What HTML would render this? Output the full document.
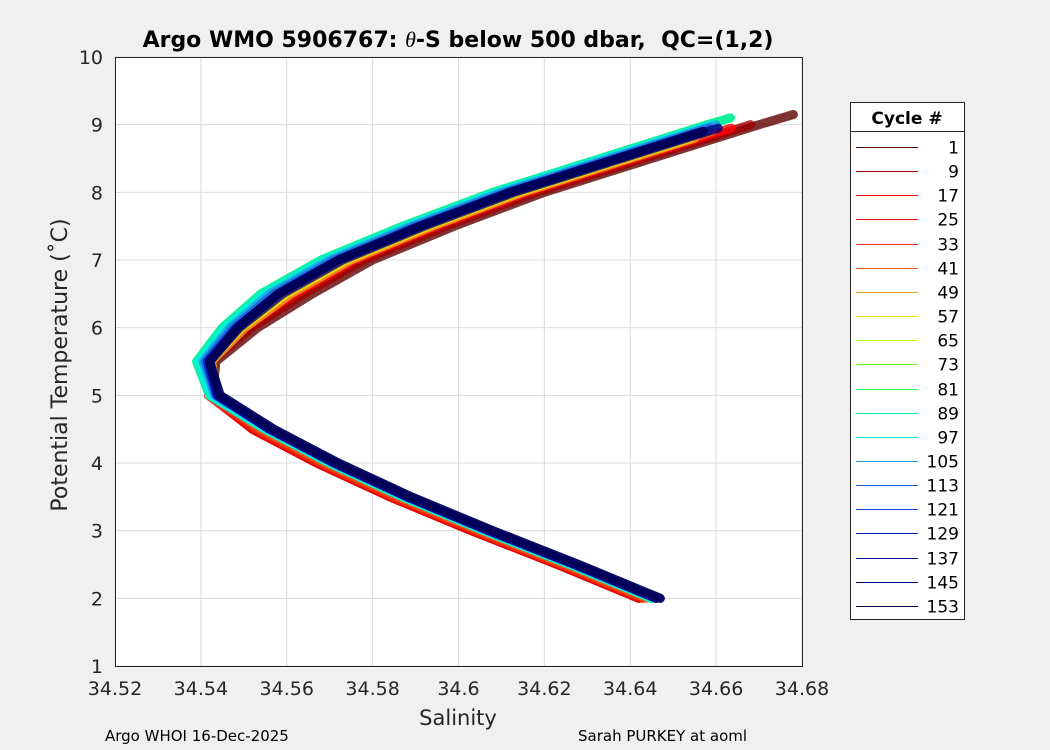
<!DOCTYPE html>
<html><head><meta charset="utf-8">
<style>
body{margin:0;background:#f0f0f0;font-family:"Liberation Sans","DejaVu Sans",sans-serif;}
#wrap{position:relative;width:1050px;height:750px;background:#f0f0f0;overflow:hidden}
text{font-family:"DejaVu Sans","Liberation Sans",sans-serif}
</style></head><body>
<div id="wrap">
<svg id="chart" width="1050" height="750"></svg>
</div>
<script>
const xTicks=[34.52,34.54,34.56,34.58,34.6,34.62,34.64,34.66,34.68];
const xTickLabels=["34.52","34.54","34.56","34.58","34.6","34.62","34.64","34.66","34.68"];
const yTicks=[1,2,3,4,5,6,7,8,9,10];
const baseTemp=[2.0,2.5,3.0,3.5,4.0,4.5,5.0,5.5,6.0,6.5,7.0,7.5,8.0,8.5,9.0,9.15];
const baseSal=[34.645,34.626,34.606,34.587,34.570,34.555,34.543,34.541,34.548,34.558,34.572,34.591,34.612,34.637,34.662,34.670];
const cycles=["1","9","17","25","33","41","49","57","65","73","81","89","97","105","113","121","129","137","145","153"];
const colors=["#600000","#a00000","#ff0000","#f01010","#f03010","#f06010","#f0a020","#f0e000","#b0ff00","#60ff20","#20ff60","#00f0a0","#00f0f0","#20a0e0","#2060e0","#1040e0","#0020c0","#0010a0","#000080","#000050"];
const lowOffset=[-0.003,-0.003,-0.003,-0.002,-0.002,-0.001,0,0,0.001,0,0,0,0,0.001,0.001,0.001,0.001,0.002,0.001,0.002];
const highOffset=[0.008,0.006,0.004,0.003,0.002,0.002,0.003,0.002,-0.001,-0.003,-0.004,-0.004,-0.003,-0.002,-0.001,0,0,0,0.001,0];
const topTemp=[9.15,9.0,8.95,8.9,8.9,8.9,8.8,8.8,8.9,9.0,9.1,9.1,9.0,9.0,8.95,8.9,8.9,8.9,8.95,8.9];

const NS="http://www.w3.org/2000/svg";
const svg=document.getElementById('chart');
const L=115,R=802,T=57,B=666;
const xS=v=>L+(v-34.52)/(0.16)*(R-L);
const yS=v=>B-(v-1)/9*(B-T);
function mk(tag,attrs,parent){const e=document.createElementNS(NS,tag);for(const k in attrs)e.setAttribute(k,attrs[k]);(parent||svg).appendChild(e);return e;}

const plot=mk('rect',{x:L,y:T,width:R-L,height:B-T,fill:'#fff',stroke:'none'});


xTicks.forEach((t,i)=>{const x=xS(t);
 const g=mk('line',{x1:x,x2:x,y1:T,y2:B,stroke:'#dcdcdc','stroke-width':1});
 
 
 const lb=mk('text',{x:x,y:B+29,'text-anchor':'middle','font-size':19,fill:'#262626'});lb.textContent=xTickLabels[i];
 
 
});
yTicks.forEach(t=>{const y=yS(t);
 const g=mk('line',{x1:L,x2:R,y1:y,y2:y,stroke:'#dcdcdc','stroke-width':1});
 
 
 const lb=mk('text',{x:L-12,y:y+7,'text-anchor':'end','font-size':19,fill:'#262626'});lb.textContent=String(t);
 
 
});
function salAt(tt){
 for(let k=0;k<baseTemp.length-1;k++){
  if(tt<=baseTemp[k+1]){const f=(tt-baseTemp[k])/(baseTemp[k+1]-baseTemp[k]);return baseSal[k]+f*(baseSal[k+1]-baseSal[k]);}
 }
 return baseSal[baseSal.length-1];
}
cycles.forEach((c,i)=>{
 const temps=baseTemp.filter(tt=>tt<topTemp[i]-0.01).concat([topTemp[i]]);
 const pts=temps.map(tt=>{
  const w=Math.min(1,Math.max(0,(tt-4.5)/2));
  const off=lowOffset[i]*(1-w)+highOffset[i]*w;
  return xS(salAt(tt)+off).toFixed(1)+','+yS(tt).toFixed(1);
 });
 const p=mk('polyline',{points:pts.join(' '),fill:'none',stroke:colors[i],'stroke-width':9,'stroke-linejoin':'round','stroke-linecap':'round','stroke-opacity':0.8});
 
 
});
const fr=mk('rect',{x:L+0.5,y:T+0.5,width:R-L,height:B-T,fill:'none',stroke:'#262626','stroke-width':1});


function txt(s,a,name){const e=mk('text',a);e.textContent=s;return e;}
const ttl=txt('',{x:458,y:47,'text-anchor':'middle','font-size':22,'font-weight':'bold',fill:'#000','xml:space':'preserve'},'chart-title');
ttl.setAttribute('style','white-space:pre');
ttl.innerHTML='Argo WMO 5906767: <tspan font-style="italic" font-weight="normal" font-family="Liberation Serif,serif">θ</tspan>-S below 500 dbar,  QC=(1,2)';
txt('Salinity',{x:458,y:725,'text-anchor':'middle','font-size':21,fill:'#262626'},'x-axis-title');
txt('Potential Temperature (˚C)',{x:67,y:365,'text-anchor':'middle','font-size':22,fill:'#262626',transform:'rotate(-90 67 365)'},'y-axis-title');
txt('Argo WHOI 16-Dec-2025',{x:105,y:741,'font-size':15,fill:'#000'},'footer-left');
txt('Sarah PURKEY at aoml',{x:578,y:741,'font-size':15,fill:'#000'},'footer-right');
const lg=mk('g',{});
mk('rect',{x:850.5,y:102.5,width:114,height:517,fill:'#fff',stroke:'#262626'},lg);
mk('line',{x1:850,x2:965,y1:131.5,y2:131.5,stroke:'#262626'},lg);
const lh=mk('text',{x:907,y:124,'text-anchor':'middle','font-size':17,'font-weight':'bold'},lg);lh.textContent='Cycle #';

cycles.forEach((c,i)=>{const y=Math.round(147+i*24.15)+0.5;
 const ln=mk('line',{x1:856,x2:918,y1:y,y2:y,stroke:colors[i],'stroke-width':1},lg);
 
 
 const t=mk('text',{x:959,y:y+6,'text-anchor':'end','font-size':17,fill:'#000'},lg);t.textContent=c;
 
 
});
</script>
</body></html>
